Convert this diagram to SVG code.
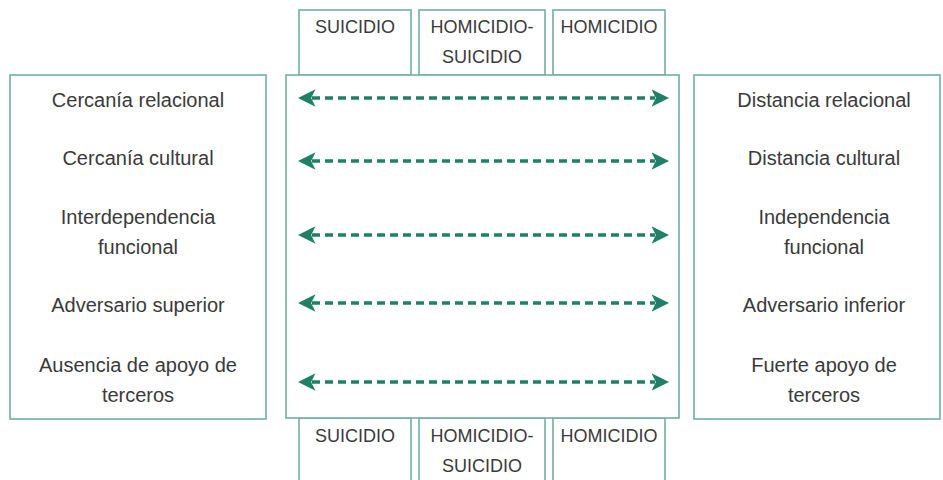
<svg xmlns="http://www.w3.org/2000/svg" width="943" height="480" viewBox="0 0 943 480">
<style>
.box{fill:#fff;stroke:#6fb0a3;stroke-width:1.6}
.t{font-family:"Liberation Sans",Arial,sans-serif;font-size:20px;fill:#3a3a3a;text-anchor:middle}
.tab{font-family:"Liberation Sans",Arial,sans-serif;font-size:18px;fill:#3a3a3a;text-anchor:middle}
.arr{stroke:#1f8068;stroke-width:3.5;stroke-dasharray:8 5;fill:none}
</style>
<defs>
<marker id="ah" viewBox="0 0 10 10" refX="2" refY="5" markerWidth="5" markerHeight="5" orient="auto-start-reverse" markerUnits="strokeWidth">
<path d="M0,0 L10,5 L0,10 L2.5,5 z" fill="#1f8068"/>
</marker>
</defs>
<rect width="943" height="480" fill="#fff"/>
<g id="tab-top-suicidio"><rect class="box" x="299" y="10" width="112" height="65"/><text class="tab" x="355" y="33">SUICIDIO</text></g>
<g id="tab-top-homsui"><rect class="box" x="419" y="10" width="126" height="65"/><text class="tab" x="482" y="33">HOMICIDIO-</text><text class="tab" x="482" y="63">SUICIDIO</text></g>
<g id="tab-top-homicidio"><rect class="box" x="553" y="10" width="112" height="65"/><text class="tab" x="609" y="33">HOMICIDIO</text></g>
<g id="tab-bot-suicidio"><rect class="box" x="299" y="418" width="112" height="70"/><text class="tab" x="355" y="442">SUICIDIO</text></g>
<g id="tab-bot-homsui"><rect class="box" x="419" y="418" width="126" height="70"/><text class="tab" x="482" y="442">HOMICIDIO-</text><text class="tab" x="482" y="472">SUICIDIO</text></g>
<g id="tab-bot-homicidio"><rect class="box" x="553" y="418" width="112" height="70"/><text class="tab" x="609" y="442">HOMICIDIO</text></g>
<g id="left">
<rect class="box" x="10" y="75" width="256" height="344"/>
<text class="t" x="138" y="107">Cercanía relacional</text>
<text class="t" x="138" y="165">Cercanía cultural</text>
<text class="t" x="138" y="224">Interdependencia</text>
<text class="t" x="138" y="254">funcional</text>
<text class="t" x="138" y="312">Adversario superior</text>
<text class="t" x="138" y="372">Ausencia de apoyo de</text>
<text class="t" x="138" y="402">terceros</text>
</g>
<g id="center"><rect class="box" x="286" y="75" width="393" height="343"/></g>
<g id="right">
<rect class="box" x="694" y="75" width="246" height="344"/>
<text class="t" x="824" y="107">Distancia relacional</text>
<text class="t" x="824" y="165">Distancia cultural</text>
<text class="t" x="824" y="224">Independencia</text>
<text class="t" x="824" y="254">funcional</text>
<text class="t" x="824" y="312">Adversario inferior</text>
<text class="t" x="824" y="372">Fuerte apoyo de</text>
<text class="t" x="824" y="402">terceros</text>
</g>
<g id="connectors">
<line class="arr" x1="312" y1="98" x2="655" y2="98" marker-start="url(#ah)" marker-end="url(#ah)"/>
<line class="arr" x1="312" y1="161" x2="655" y2="161" marker-start="url(#ah)" marker-end="url(#ah)"/>
<line class="arr" x1="312" y1="235" x2="655" y2="235" marker-start="url(#ah)" marker-end="url(#ah)"/>
<line class="arr" x1="312" y1="303" x2="655" y2="303" marker-start="url(#ah)" marker-end="url(#ah)"/>
<line class="arr" x1="312" y1="382" x2="655" y2="382" marker-start="url(#ah)" marker-end="url(#ah)"/>
</g>
</svg>
